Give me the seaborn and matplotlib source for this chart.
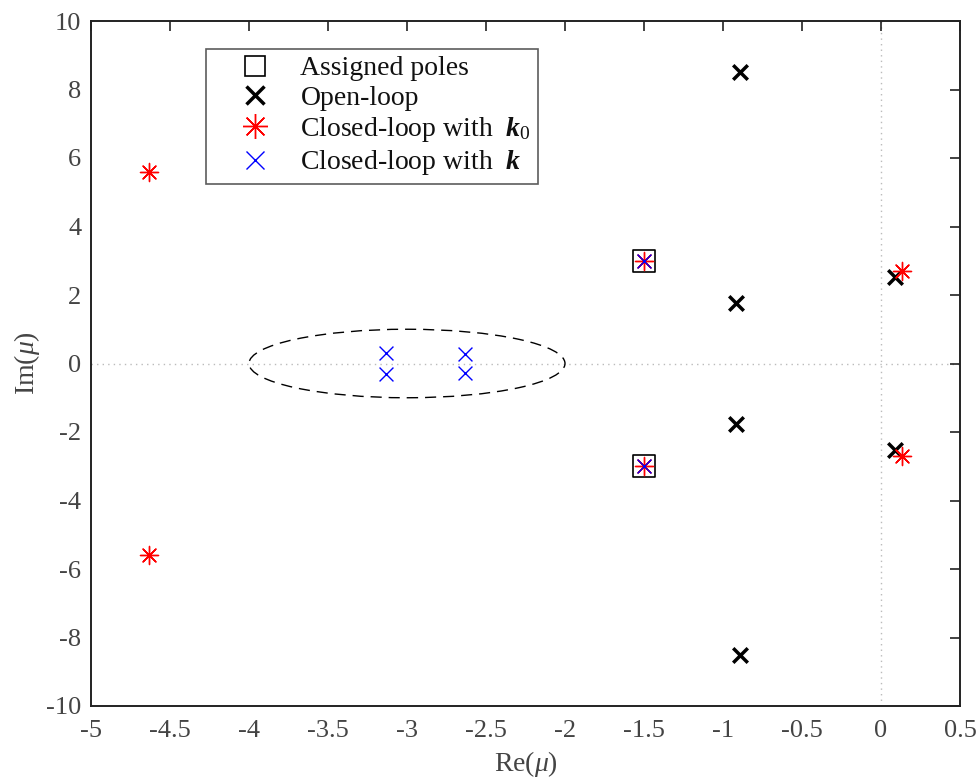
import numpy as np
import pandas as pd
import matplotlib
matplotlib.use("Agg")
import matplotlib.pyplot as plt
import seaborn as sns
from matplotlib.lines import Line2D
from matplotlib.patches import Ellipse

# ---- data ----
assigned_re = [-1.5, -1.5]
assigned_im = [3.0, -3.0]
open_re = [-0.89, -0.89, -0.92, -0.92, 0.09, 0.09]
open_im = [8.5, -8.5, 1.76, -1.76, 2.53, -2.53]
k0_re = [-4.63, -4.63, -1.5, -1.5, 0.13, 0.13]
k0_im = [5.6, -5.6, 3.0, -3.0, 2.7, -2.7]
k_re = [-1.5, -1.5, -3.13, -3.13, -2.63, -2.63]
k_im = [3.0, -3.0, 0.3, -0.3, 0.27, -0.27]
x_ticks = [-5, -4.5, -4, -3.5, -3, -2.5, -2, -1.5, -1, -0.5, 0, 0.5]
y_ticks = [-10, -8, -6, -4, -2, 0, 2, 4, 6, 8, 10]
labels = ["Assigned poles", "Open-loop", r"Closed-loop with  $\mathbf{k}_0$", r"Closed-loop with  $\mathbf{k}$"]

sns.set_theme(style="white")
plt.rcParams['font.family'] = ['Liberation Serif', 'DejaVu Serif']
plt.rcParams['mathtext.fontset'] = 'custom'
plt.rcParams['mathtext.rm'] = 'Liberation Serif'
plt.rcParams['mathtext.it'] = 'Liberation Serif:italic'
plt.rcParams['mathtext.bf'] = 'Liberation Serif:bold:italic'
plt.rcParams['axes.unicode_minus'] = False

fig = plt.figure(figsize=(9.78, 7.8), dpi=100)
ax = fig.add_axes([91/978, 1-706/780, (960-91)/978, (706-21)/780])

ax.axhline(0, color='#bbbbbb', lw=1, ls=(0, (1, 3)), zorder=0)
ax.axvline(0, color='#bbbbbb', lw=1, ls=(0, (1, 3)), zorder=0)

ax.add_patch(Ellipse((-3, 0), 2, 2, fill=False, ec='black', lw=1, ls=(0, (8, 5))))

df_a = pd.DataFrame({'re': assigned_re, 'im': assigned_im})
df_o = pd.DataFrame({'re': open_re, 'im': open_im})
df_k0 = pd.DataFrame({'re': k0_re, 'im': k0_im})
df_k = pd.DataFrame({'re': k_re, 'im': k_im})

sns.scatterplot(data=df_a, x='re', y='im', ax=ax, marker='s', s=260, facecolor='none',
                edgecolor='black', linewidth=1.2, zorder=3)
sns.scatterplot(data=df_o, x='re', y='im', ax=ax, marker='x', s=110, color='black',
                linewidth=2.5, zorder=3)
sns.scatterplot(data=df_k0, x='re', y='im', ax=ax, marker=(8, 2, 0), s=170, color='red',
                edgecolor='red', linewidth=1.0, zorder=4)
sns.scatterplot(data=df_k, x='re', y='im', ax=ax, marker='x', s=100, color='blue',
                linewidth=1.0, zorder=5)

ax.set_xlim(-5, 0.5)
ax.set_ylim(-10, 10)
ax.set_xticks(x_ticks)
ax.set_xticklabels([f"{t:g}" for t in x_ticks])
ax.set_yticks(y_ticks)
ax.set_yticklabels([f"{t:g}" for t in y_ticks])
ax.tick_params(direction='in', top=True, right=True, length=7, width=1.2,
               labelsize=19, labelcolor='#444444', color='#222222')
ax.tick_params(axis='x', pad=10)
ax.tick_params(axis='y', pad=7)
for s in ax.spines.values():
    s.set_color('#222222')
    s.set_linewidth(1.4)
ax.set_xlabel(r"Re($\mu$)", fontsize=20, color='#444444', labelpad=5)
ax.set_ylabel(r"Im($\mu$)", fontsize=20, color='#444444', labelpad=3)

handles = [
    Line2D([], [], ls='none', marker='s', ms=14, mfc='none', mec='black', mew=1.2),
    Line2D([], [], ls='none', marker='x', ms=13, color='black', mew=2.5),
    Line2D([], [], ls='none', marker=(8, 2, 0), ms=18, color='red', mew=1.0),
    Line2D([], [], ls='none', marker='x', ms=13, color='blue', mew=1.0),
]
leg = ax.legend(handles, labels, loc='upper left', bbox_to_anchor=((206-91)/869, (706-49)/685),
                fontsize=20, frameon=True, fancybox=False, edgecolor='#333333',
                borderpad=0.25, labelspacing=0.15, handlelength=3.0, handletextpad=0.15,
                borderaxespad=0)
leg.get_frame().set_linewidth(1.2)
for t in leg.get_texts():
    t.set_color('#111111')

fig.savefig("out.png", dpi=100)
